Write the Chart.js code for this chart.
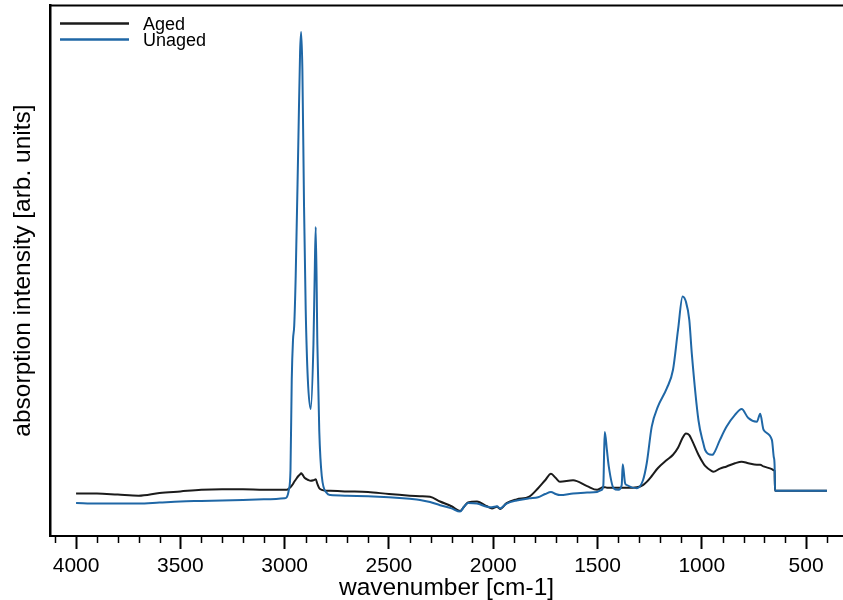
<!DOCTYPE html>
<html>
<head>
<meta charset="utf-8">
<script src="https://cdn.jsdelivr.net/npm/chart.js@4"></script>
<style>
    html, body { margin: 0; padding: 0; background: #fff; }
</style>
</head>
<body>
<canvas id="spectrum" width="843" height="600"></canvas>
<script>
// Data (y in arbitrary units, 0..100 of plot height)
const wavenumbers = [
    4000, 3900, 3800, 3700, 3600, 3500, 3400, 3300, 3200, 3100, 3000,
    2990, 2980, 2972, 2966, 2960, 2954, 2947, 2934, 2926, 2921, 2915, 2907, 2899, 2889, 2875,
    2862, 2856, 2851, 2843, 2834, 2822, 2798, 2782, 2700, 2600, 2500, 2400, 2351, 2303, 2255,
    2200, 2159, 2140, 2121, 2078, 2030, 2006, 1982, 1967, 1936, 1888, 1827, 1785, 1751, 1723,
    1700, 1680, 1617, 1550, 1502, 1480, 1472, 1468, 1465, 1455, 1446, 1423, 1400, 1384, 1379,
    1368, 1360, 1311, 1282, 1264, 1240, 1210, 1168, 1138, 1114, 1092, 1076, 1060, 1048, 1016,
    993, 984, 952, 945, 913, 881, 841, 809, 777, 736, 720, 704, 664, 655, 651, 649, 400
];
const aged = [
    8.0, 8.0, 7.8, 7.6, 8.1, 8.4, 8.7, 8.8, 8.8, 8.7, 8.7,
    8.7, 8.9, 9.2, 9.5, 9.8, 10.2, 10.6, 11.3, 11.6, 11.8, 11.6, 11.1, 10.8, 10.6, 10.4,
    10.5, 10.6, 10.7, 9.8, 9.0, 8.7, 8.5, 8.5, 8.4, 8.3, 7.9, 7.6, 7.5, 7.4, 6.5,
    5.6, 4.7, 5.5, 6.3, 6.5, 5.6, 5.2, 5.5, 5.1, 6.2, 6.9, 7.4, 9.0, 10.5, 11.7,
    10.9, 10.2, 10.5, 9.4, 8.7, 9.1, 9.2, 9.2, 9.2, 9.1, 9.1, 9.1, 9.1, 9.1, 9.1,
    9.1, 9.1, 9.2, 9.6, 10.2, 11.3, 12.8, 14.3, 15.3, 16.6, 18.5, 19.3, 19.0, 18.1, 15.3,
    13.7, 13.2, 12.2, 12.1, 12.7, 13.1, 13.7, 14.0, 13.7, 13.4, 13.4, 13.1, 12.6, 12.4, 12.3, 8.5, 8.5
];
const unaged = [
    6.2, 6.1, 6.1, 6.1, 6.3, 6.5, 6.6, 6.7, 6.8, 6.9, 7.1,
    7.3, 8.7, 12.4, 29.4, 36.9, 39.7, 49.0, 75.0, 91.1, 94.9, 87.9, 62.0, 42.6, 29.6, 23.9,
    36.0, 49.0, 58.2, 36.0, 19.8, 11.3, 8.1, 7.7, 7.6, 7.5, 7.3, 7.0, 6.8, 6.4, 5.8,
    5.2, 4.6, 5.5, 6.2, 6.1, 5.5, 5.4, 5.6, 5.2, 6.1, 6.7, 7.1, 7.3, 7.9, 8.3,
    7.9, 7.7, 8.0, 8.2, 8.3, 8.7, 9.6, 16.2, 19.6, 16.2, 13.1, 9.0, 8.7, 9.6, 13.5,
    10.0, 9.6, 9.0, 10.5, 13.7, 20.6, 24.4, 27.8, 31.3, 38.8, 45.1, 44.1, 40.7, 34.4, 21.8,
    17.5, 16.2, 15.3, 15.4, 18.1, 20.6, 22.8, 23.9, 22.2, 21.5, 23.0, 20.0, 18.1, 14.9, 13.4, 8.5, 8.5
];
const seriesLabels = ['Aged', 'Unaged'];
const majorTicks = [4000, 3500, 3000, 2500, 2000, 1500, 1000, 500];
const minorStep = 100;

const COLORS = {
    aged: '#1b1b1b',
    unaged: '#1f67a6',
    axis: '#000000',
    text: '#000000'
};
const FONT = '"Liberation Sans", Arial, Helvetica, sans-serif';

// minor ticks, top frame line and the legend inside the plot
const framePlugin = {
    id: 'frame',
    afterDraw(chart) {
        const { ctx, chartArea } = chart;
        const xs = chart.scales.x;
        ctx.save();
        ctx.strokeStyle = COLORS.axis;
        ctx.lineWidth = 1.5;
        for (let v = 400; v <= 4100; v += minorStep) {
            if (majorTicks.includes(v)) continue;
            const px = Math.round(xs.getPixelForValue(v)) + 0.5;
            ctx.beginPath();
            ctx.moveTo(px, chartArea.bottom);
            ctx.lineTo(px, chartArea.bottom + 7);
            ctx.stroke();
        }
        ctx.lineWidth = 2;
        ctx.beginPath();
        ctx.moveTo(chartArea.left, chartArea.top + 0.5);
        ctx.lineTo(chartArea.right, chartArea.top + 0.5);
        ctx.stroke();

        // legend
        ctx.font = '18px ' + FONT;
        ctx.textBaseline = 'alphabetic';
        ctx.textAlign = 'left';
        chart.data.datasets.forEach((ds, i) => {
            const y = 23.5 + i * 16;
            ctx.strokeStyle = ds.borderColor;
            ctx.lineWidth = 2.5;
            ctx.beginPath();
            ctx.moveTo(60, y);
            ctx.lineTo(129, y);
            ctx.stroke();
            ctx.fillStyle = COLORS.text;
            ctx.fillText(ds.label, 143, y + 6.5);
        });
        ctx.restore();
    }
};

const toPoints = vals => wavenumbers.map((w, i) => ({ x: w, y: vals[i] }));

new Chart(document.getElementById('spectrum'), {
    type: 'line',
    data: {
        datasets: [
            {
                label: seriesLabels[0],
                data: toPoints(aged),
                borderColor: COLORS.aged,
                borderWidth: 2,
                pointRadius: 0,
                cubicInterpolationMode: 'monotone',
                order: 1
            },
            {
                label: seriesLabels[1],
                data: toPoints(unaged),
                borderColor: COLORS.unaged,
                borderWidth: 2,
                pointRadius: 0,
                cubicInterpolationMode: 'monotone',
                order: 0
            }
        ]
    },
    options: {
        responsive: false,
        animation: false,
        layout: { padding: { top: 5, right: 0, bottom: 0, left: 0 } },
        plugins: {
            legend: { display: false },
            tooltip: { enabled: false }
        },
        scales: {
            x: {
                type: 'linear',
                reverse: true,
                min: 323,
                max: 4125,
                afterBuildTicks: s => { s.ticks = majorTicks.map(v => ({ value: v })); },
                afterFit: s => { s.height = 64; },
                border: { display: true, color: COLORS.axis, width: 2 },
                grid: {
                    drawOnChartArea: false,
                    tickLength: 13,
                    tickWidth: 2,
                    tickColor: COLORS.axis
                },
                ticks: {
                    autoSkip: false,
                    maxRotation: 0,
                    padding: 5,
                    color: COLORS.text,
                    font: { family: FONT, size: 21 },
                    callback: v => String(v)
                },
                title: {
                    display: true,
                    text: 'wavenumber [cm-1]',
                    color: COLORS.text,
                    font: { family: FONT, size: 24.5 },
                    padding: { top: 0, bottom: -3 }
                }
            },
            y: {
                min: 0,
                max: 100,
                afterFit: s => { s.width = 50; },
                border: { display: true, color: COLORS.axis, width: 2.5 },
                grid: { display: false },
                ticks: { display: false },
                title: {
                    display: true,
                    text: 'absorption intensity [arb. units]',
                    color: COLORS.text,
                    font: { family: FONT, size: 24.5 },
                    padding: { top: 9, bottom: 0 }
                }
            }
        }
    },
    plugins: [framePlugin]
});
</script>
</body>
</html>
